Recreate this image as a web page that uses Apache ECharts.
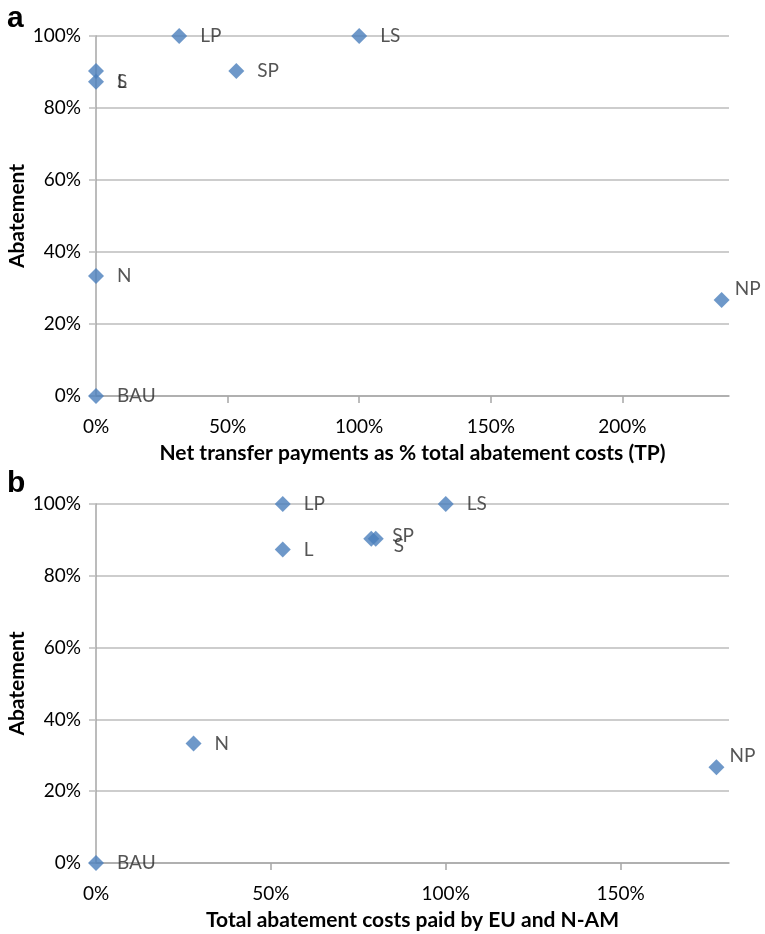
<!DOCTYPE html>
<html>
<head>
<meta charset="utf-8">
<script src="https://cdn.jsdelivr.net/npm/echarts@6/dist/echarts.min.js"></script>
<style>
  html, body { margin: 0; padding: 0; background: #fff; }
  #chart { width: 765px; height: 934px; }
</style>
</head>
<body>
<div id="chart"></div>
<script>
// scenarios
const scenarios = ['BAU', 'N', 'L', 'S', 'LP', 'SP', 'LS', 'NP'];
// abatement (% of max), same in both panels
const abatement = [0, 33.3, 87.3, 90.3, 100, 90.3, 100, 26.7];
// panel a: net transfer payments as % of total abatement costs
const transferPct = [0, 0, 0, 0, 31.6, 53.3, 100, 237.7];
// panel b: total abatement costs paid by EU and N-AM
const costPaidPct = [0, 27.9, 53.4, 80.0, 53.4, 78.7, 100, 177.4];

const xTicksA = [0, 50, 100, 150, 200];
const xTicksB = [0, 50, 100, 150];

const font = 'Lato';
const blue = '#4a7ebb';

// label nudges for overlapping points
const labelNudgeA = { S: [0, 11], NP: [-8, -11] };
const labelNudgeB = { SP: [0, -3], S: [-3, 7], NP: [-8, -11] };

function makePoints(xs, nudge) {
  return scenarios.map((name, i) => {
    const p = { name: name, value: [xs[i], abatement[i]] };
    if (nudge[name]) p.label = { offset: nudge[name] };
    return p;
  });
}

function xAxis(gridIndex, max, ticks, title) {
  return {
    type: 'value', gridIndex: gridIndex, min: 0, max: max,
    name: title, nameLocation: 'middle', nameGap: 47, nameMoveOverlap: false,
    nameTextStyle: { fontFamily: font, fontWeight: 'bold', fontSize: 21, color: '#000' },
    axisLine: { lineStyle: { color: '#a6a6a6', width: 1.5 } },
    axisTick: { show: true, length: 7, customValues: ticks.slice(1), lineStyle: { color: '#a6a6a6', width: 1.5 } },
    axisLabel: { customValues: ticks, formatter: v => v + '%', margin: 21,
      fontFamily: font, fontSize: 19, color: '#000' },
    splitLine: { show: false }
  };
}

function yAxis(gridIndex) {
  return {
    type: 'value', gridIndex: gridIndex, min: 0, max: 100, interval: 20,
    name: 'Abatement', nameLocation: 'middle', nameGap: 68, nameMoveOverlap: false,
    nameTextStyle: { fontFamily: font, fontWeight: 'bold', fontSize: 21, color: '#000' },
    axisLine: { show: true, lineStyle: { color: '#a6a6a6', width: 1.5 } },
    axisTick: { show: true, length: 7, lineStyle: { color: '#bdbdbd', width: 1.5 } },
    axisLabel: { formatter: v => v + '%', margin: 15, fontFamily: font, fontSize: 19, color: '#000' },
    splitLine: { show: true, lineStyle: { color: '#bdbdbd', width: 1.5 } }
  };
}

function scatter(idx, data) {
  return {
    type: 'scatter', xAxisIndex: idx, yAxisIndex: idx,
    symbol: 'diamond', symbolSize: 16,
    itemStyle: { color: blue },
    label: { show: true, position: 'right', distance: 13, formatter: '{b}',
      fontFamily: font, fontSize: 19, color: '#2a2a2a' },
    data: data
  };
}

const chart = echarts.init(document.getElementById('chart'));
chart.setOption({
  animation: false,
  title: [
    { text: 'a', left: 2, top: -1, textStyle: { fontFamily: 'Liberation Sans', fontWeight: 'bold', fontSize: 30, color: '#000' } },
    { text: 'b', left: 2, top: 464, textStyle: { fontFamily: 'Liberation Sans', fontWeight: 'bold', fontSize: 30, color: '#000' } }
  ],
  grid: [
    { left: 96, top: 36, width: 633, height: 360, outerBoundsMode: 'none', containLabel: false },
    { left: 96, top: 504, width: 633, height: 359, outerBoundsMode: 'none', containLabel: false }
  ],
  xAxis: [
    xAxis(0, 240.5, xTicksA, 'Net transfer payments as % total abatement costs (TP)'),
    xAxis(1, 181, xTicksB, 'Total abatement costs paid by EU and N-AM')
  ],
  yAxis: [yAxis(0), yAxis(1)],
  series: [
    scatter(0, makePoints(transferPct, labelNudgeA)),
    scatter(1, makePoints(costPaidPct, labelNudgeB))
  ]
});
</script>
</body>
</html>
